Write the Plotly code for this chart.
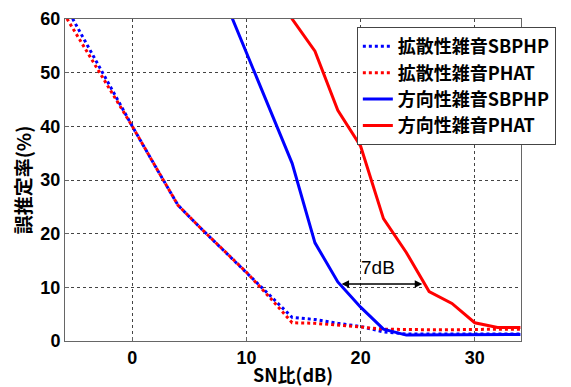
import plotly.graph_objects as go

snr = [-6, -4, -2, 0, 2, 4, 6, 8, 10, 12, 14, 16, 18, 20, 22, 24, 26, 28, 30, 32, 34]

diffuse_sbphp = [63.0, 55.3, 47.6, 40.0, 32.6, 25.3, 21.0, 16.9, 12.8, 8.6, 4.4, 4.0, 3.3, 2.7, 1.7, 1.3, 1.3, 1.3, 1.3, 1.3, 1.3]
diffuse_phat = [61.0, 54.0, 47.0, 40.0, 32.6, 25.3, 21.0, 16.9, 12.8, 8.2, 3.4, 3.3, 3.0, 2.6, 2.2, 2.1, 2.1, 2.1, 2.2, 2.2, 2.2]

dir_snr = [8, 10, 12, 14, 16, 18, 20, 22, 24, 26, 28, 30, 32, 34]
dir_sbphp = [64.0, 53.8, 43.5, 33.1, 18.3, 11.0, 6.3, 2.2, 1.1, 1.1, 1.1, 1.1, 1.15, 1.2]
dir_phat_snr = [12, 14, 16, 18, 20, 22, 24, 26, 28, 30, 32, 34]
dir_phat = [68.0, 60.0, 54.0, 43.0, 36.3, 22.8, 16.5, 9.2, 7.0, 3.4, 2.5, 2.5]

names = ["拡散性雑音SBPHP", "拡散性雑音PHAT", "方向性雑音SBPHP", "方向性雑音PHAT"]

x_ticks = [0, 10, 20, 30]
y_ticks = [0, 10, 20, 30, 40, 50, 60]

gap_start = 18.2
gap_end = 25.4
gap_level = 10.6
gap_label = "7dB"

BLUE = "#0000FF"
RED = "#FF0000"
FONT = "Noto Sans CJK JP"
NUMFONT = "Liberation Sans"

fig = go.Figure()
fig.add_trace(go.Scatter(x=snr, y=diffuse_sbphp, mode="lines", name=names[0],
                         line=dict(color=BLUE, width=3, dash="dot")))
fig.add_trace(go.Scatter(x=snr, y=diffuse_phat, mode="lines", name=names[1],
                         line=dict(color=RED, width=3, dash="dot")))
fig.add_trace(go.Scatter(x=dir_snr, y=dir_sbphp, mode="lines", name=names[2],
                         line=dict(color=BLUE, width=3)))
fig.add_trace(go.Scatter(x=dir_phat_snr, y=dir_phat, mode="lines", name=names[3],
                         line=dict(color=RED, width=3)))

fig.add_annotation(x=gap_end, y=gap_level, ax=gap_start, ay=gap_level,
                   xref="x", yref="y", axref="x", ayref="y",
                   text="", showarrow=True, arrowhead=2, arrowside="end+start",
                   arrowsize=1, arrowwidth=1.5, arrowcolor="black")
fig.add_annotation(x=(gap_start + gap_end) / 2 - 0.3, y=gap_level, xref="x", yref="y",
                   text=gap_label, showarrow=False, yshift=17,
                   font=dict(family=NUMFONT, size=19, color="black"))

axis_common = dict(
    showline=True, mirror=True, linecolor="#666", linewidth=1,
    showgrid=True, gridcolor="#444", griddash="dot", gridwidth=1,
    zeroline=False, ticks="inside", ticklen=4, tickcolor="#666",
    automargin=False,
    tickfont=dict(family=NUMFONT, size=18, color="black", weight="bold"),
)

fig.update_xaxes(range=[-5.9, 34.05], tickvals=x_ticks,
                 title=dict(text="SN比(dB)", standoff=2,
                            font=dict(family=FONT, size=18, color="black", weight="bold")),
                 **axis_common)
fig.update_yaxes(range=[0, 60], tickvals=y_ticks,
                 title=dict(text="誤推定率(%)", standoff=3,
                            font=dict(family=FONT, size=19, color="black", weight="bold")),
                 **axis_common)

fig.update_layout(
    width=563, height=379,
    margin=dict(l=57, r=50, t=11, b=46, autoexpand=False),
    plot_bgcolor="white", paper_bgcolor="white",
    showlegend=True,
    legend=dict(x=0.64, y=0.975, xanchor="left", yanchor="top",
                bgcolor="white", bordercolor="#444", borderwidth=1,
                font=dict(family=FONT, size=18, color="black", weight="bold"),
                itemwidth=30, tracegroupgap=0),
)

fig.write_html("out.html")
